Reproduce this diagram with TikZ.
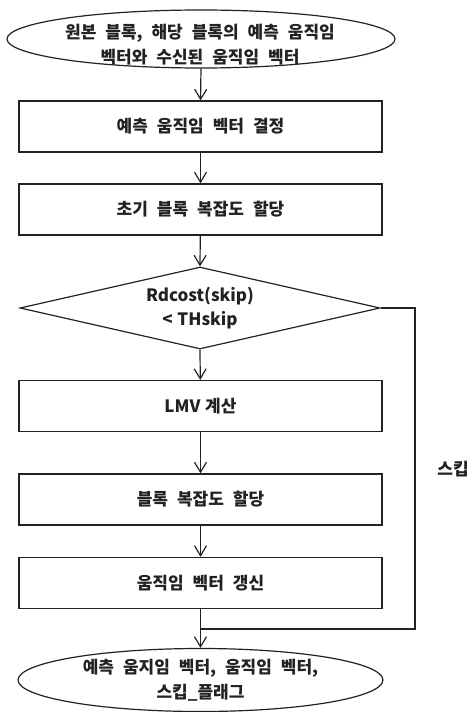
\documentclass[tikz,border=0pt]{standalone}
\usepackage{fontspec}
\usetikzlibrary{shapes.geometric,arrows.meta}
\newfontfamily\kr{Noto Sans CJK KR}[WordSpace=2.3]
\definecolor{ink}{HTML}{222222}
\newcommand{\latsp}{\hspace{0.28em}}
\begin{document}
\begin{tikzpicture}[x=1pt,y=-1pt,
  every node/.style={font=\kr\bfseries\fontsize{17}{24.5}\selectfont, text=ink, align=center},
  term/.style={draw=ink, line width=1.2pt, ellipse, inner sep=0pt},
  procbox/.style={draw=ink, line width=1.2pt, rectangle, minimum width=363pt, minimum height=51pt, inner sep=0pt},
  decide/.style={draw=ink, line width=1.2pt, diamond, aspect=4.4, minimum width=360pt, minimum height=82pt, inner sep=0pt},
  flow/.style={draw=ink, line width=1.2pt, -{Straight Barb[length=10pt,width=12pt,line width=1.2pt]}},
  plain/.style={draw=ink, line width=1.2pt}]
\useasboundingbox (0,0) rectangle (475,712);
\node[term, minimum width=388pt, minimum height=58pt] (start) at (201,39) {};
\node (starttext) at (200,44.5) {원본 블록, 해당 블록의 예측 움직임\\벡터와 수신된 움직임 벡터};
\node[procbox] (b1) at (200.5,126.5) {예측 움직임 벡터 결정};
\node[procbox] (b2) at (200.5,209.5) {초기 블록 복잡도 할당};
\node[decide] (dia) at (200,308) {Rdcost(skip)\\<\latsp THskip};
\node[procbox] (b3) at (200.5,406) {LMV\latsp 계산};
\node[procbox] (b4) at (200.5,499.5) {블록 복잡도 할당};
\node[procbox] (b5) at (200.5,583) {움직임 벡터 갱신};
\node[term, minimum width=365pt, minimum height=63pt] (stop) at (200.5,680) {예측 움지임 벡터, 움직임 벡터,\\스킵\_플래그};
\node (skip) at (453,469) {스킵};
\coordinate (sk) at (415,629);
\coordinate (mg) at (200,629);
\draw[flow] (start.south) -- (b1.north);
\draw[flow] (b1) -- (b2);
\draw[flow] (b2) -- (dia.north);
\draw[flow] (dia.south) -- (b3);
\draw[flow] (b3) -- (b4);
\draw[flow] (b4) -- (b5);
\draw[flow] (b5) -- (stop.north);
\draw[plain] (dia.east) -| (sk) -- (mg);
\end{tikzpicture}
\end{document}
